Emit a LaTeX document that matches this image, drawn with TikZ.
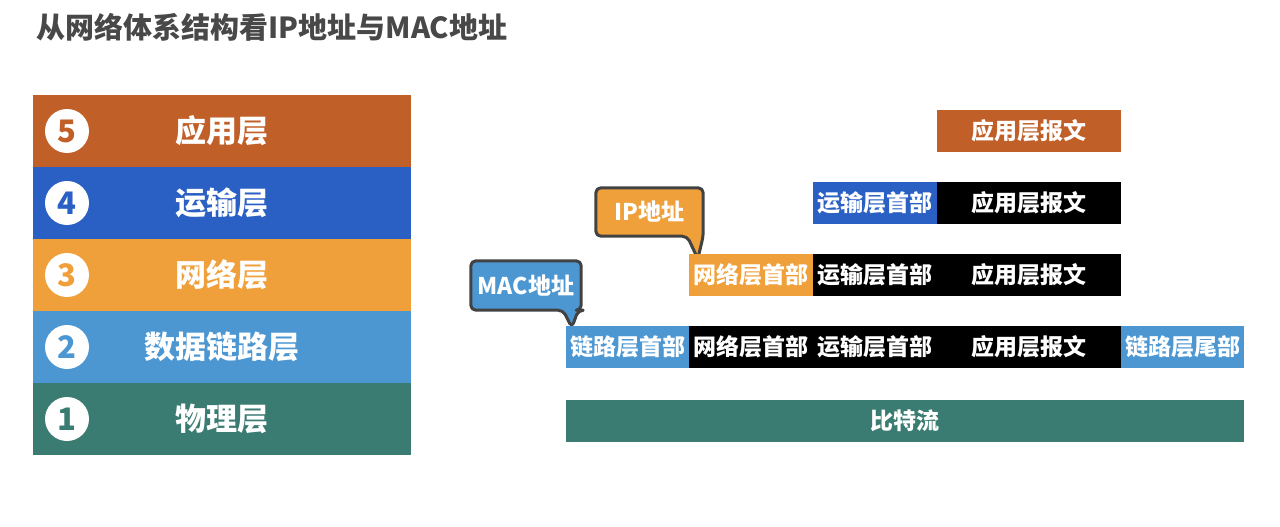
\documentclass[tikz,border=0pt]{standalone}
\usepackage{fontspec}
\setmainfont{Noto Sans CJK SC}
\usetikzlibrary{positioning,calc,backgrounds}
\definecolor{appbrown}  {RGB}{193,95,40}
\definecolor{transblue} {RGB}{42,95,196}
\definecolor{netorange} {RGB}{240,160,58}
\definecolor{linkblue}  {RGB}{76,151,210}
\definecolor{phyteal}   {RGB}{59,124,114}
\definecolor{titlegray} {RGB}{72,72,72}
\definecolor{taggray}   {RGB}{66,66,66}

\begin{document}
\begin{tikzpicture}[
  x=1pt,y=-1pt,
  layerbox/.style={minimum width=378pt,minimum height=72pt,inner sep=0pt,
                   fill=#1,text=white,font=\fontsize{31}{31}\selectfont\bfseries},
  numdot/.style={circle,fill=white,minimum size=44pt,inner sep=0pt,
                 text=#1,font=\fontsize{31}{31}\selectfont\bfseries},
  seg/.style 2 args={minimum width=#1,minimum height=42pt,inner sep=0pt,
                     fill=#2,text=white,font=\fontsize{23}{23}\selectfont\bfseries},
  tagtext/.style 2 args={minimum width=#1,minimum height=#2,inner sep=0pt,
                         text=white,font=\fontsize{23}{23}\selectfont\bfseries},
  tagline/.style={draw=taggray,line width=3pt,rounded corners=5pt,line join=round},
]
\useasboundingbox (0,0) rectangle (1280,527);

%% ── Title ───────────────────────────────────────────────────────────────────
\node[anchor=west,text=titlegray,font=\fontsize{29}{29}\selectfont\bfseries]
  (title) at (33,27) {从网络体系结构看IP地址与MAC地址};

%% ── Five-layer stack ────────────────────────────────────────────────────────
\node[layerbox=appbrown]  (L5) at (222,131) {应用层};
\node[layerbox=transblue] (L4) at (222,203) {运输层};
\node[layerbox=netorange] (L3) at (222,275) {网络层};
\node[layerbox=linkblue]  (L2) at (222,347) {数据链路层};
\node[layerbox=phyteal]   (L1) at (222,419) {物理层};

\node[numdot=appbrown]  (n5) at (67,131) {5};
\node[numdot=transblue] (n4) at (67,203) {4};
\node[numdot=netorange] (n3) at (67,275) {3};
\node[numdot=linkblue]  (n2) at (67,347) {2};
\node[numdot=phyteal]   (n1) at (67,419) {1};

%% ── Application layer: message ──────────────────────────────────────────────
\node[seg={184pt}{appbrown}] (appMsg) at (1029,131) {应用层报文};

%% ── Transport layer: header + message ───────────────────────────────────────
\node[seg={124pt}{transblue}] (tHdr) at (875,203) {运输层首部};
\node[seg={184pt}{black}]     (tMsg) at (1029,203) {应用层报文};

%% ── Network layer: header + segment ─────────────────────────────────────────
\node[seg={124pt}{netorange}] (nHdr)  at (751,275) {网络层首部};
\node[seg={124pt}{black}]     (nTHdr) at (875,275) {运输层首部};
\node[seg={184pt}{black}]     (nMsg)  at (1029,275) {应用层报文};

%% ── Data link layer: header + packet + trailer ──────────────────────────────
\node[seg={123pt}{linkblue}] (lHdr)  at (627.5,347) {链路层首部};
\node[seg={124pt}{black}]    (lNHdr) at (751,347) {网络层首部};
\node[seg={124pt}{black}]    (lTHdr) at (875,347) {运输层首部};
\node[seg={184pt}{black}]    (lMsg)  at (1029,347) {应用层报文};
\node[seg={123pt}{linkblue}] (lTail) at (1182.5,347) {链路层尾部};

%% ── Physical layer: bit stream ──────────────────────────────────────────────
\node[seg={678pt}{phyteal}] (bits) at (905,421) {比特流};

%% ── Callouts: IP / MAC address ──────────────────────────────────────────────
\node[tagtext={107pt}{48pt}] (ipTag)  at (649.5,212) {IP地址};
\node[tagtext={110pt}{49pt}] (macTag) at (526,285.5) {MAC地址};
\coordinate (ipTip)  at ($(nHdr.north west)+(9,5)$);
\coordinate (macTip) at ($(lHdr.north west)+(6,2)$);

\begin{scope}[on background layer]
\draw[tagline,fill=netorange]
  (ipTag.north west) -- (ipTag.north east) -- (ipTag.south east)
  -- (ipTip) -- ($(ipTag.south east)+(-16,0)$) -- (ipTag.south west) -- cycle;
\draw[tagline,fill=linkblue]
  (macTag.north west) -- (macTag.north east) -- (macTag.south east)
  -- ($(macTag.south east)+(-3,0)$) -- (macTip)
  -- ($(macTag.south east)+(-18,0)$) -- (macTag.south west) -- cycle;
\end{scope}

\end{tikzpicture}
\end{document}
